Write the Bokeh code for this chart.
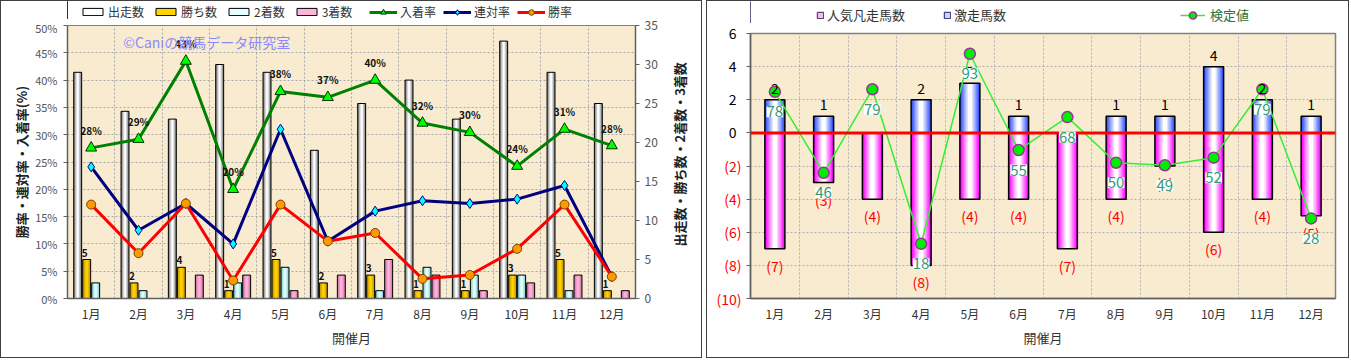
import math
from bokeh.plotting import figure
from bokeh.models import (Range1d, LinearAxis, FixedTicker, PrintfTickFormatter, ColumnDataSource,
                          LabelSet, Legend, LegendItem, Span, Label, Spacer)
from bokeh.layouts import row, column
from bokeh.embed import file_html
from bokeh.resources import INLINE
from bokeh.core.properties import value

# ---------------- data ----------------
months = ["1月", "2月", "3月", "4月", "5月", "6月", "7月", "8月", "9月", "10月", "11月", "12月"]

runners = [29, 24, 23, 30, 29, 19, 25, 28, 23, 33, 29, 25]        # 出走数
wins = [5, 2, 4, 1, 5, 2, 3, 1, 1, 3, 5, 1]                        # 勝ち数
seconds = [2, 1, 0, 2, 4, 0, 1, 4, 3, 3, 1, 0]                     # 2着数
thirds = [0, 0, 3, 3, 1, 3, 5, 3, 1, 2, 3, 1]                      # 3着数
place_rate = [27.59, 29.17, 43.48, 20.0, 37.93, 36.84, 40.0, 32.14, 30.43, 24.24, 31.03, 28.0]  # 入着率
quinella_rate = [24.1, 12.5, 17.4, 10.0, 31.0, 10.5, 16.0, 17.9, 17.4, 18.2, 20.7, 4.0]        # 連対率
win_rate = [17.2, 8.3, 17.4, 3.3, 17.2, 10.5, 12.0, 3.6, 4.3, 9.1, 17.2, 4.0]                   # 勝率
rate_ticks = [0, 5, 10, 15, 20, 25, 30, 35, 40, 45, 50]
count_ticks = [0, 5, 10, 15, 20, 25, 30, 35]

fav_flops = [-7, -3, -4, -8, -4, -4, -7, -4, -2, -6, -4, -5]      # 人気凡走馬数
longshots = [2, 1, 0, 2, 3, 1, 0, 1, 1, 4, 2, 1]                   # 激走馬数
test_value = [78, 46, 79, 18, 93, 55, 68, 50, 49, 52, 79, 28]      # 検定値
diff_ticks = [-10, -8, -6, -4, -2, 0, 2, 4, 6]

FONT = "Noto Sans CJK JP"
n = len(months)
xs = [i + 0.5 for i in range(n)]
bounds = list(range(1, n))

# colours
RUN_E, RUN_C = "#7a7a7a", "#ffffff"
WIN_E, WIN_C = "#c09000", "#ffd400"
SEC_E, SEC_C = "#80cccc", "#e4ffff"
THR_E, THR_C = "#d070a8", "#ffb4da"
FLOP_E, LONG_E = "#ff00ff", "#3050ff"


def hex2rgb(h):
    h = h.lstrip("#")
    return tuple(int(h[i:i + 2], 16) for i in (0, 2, 4))


def mix(a, b, t):
    ra, rb = hex2rgb(a), hex2rgb(b)
    return "#%02x%02x%02x" % tuple(round(ra[i] + (rb[i] - ra[i]) * t) for i in range(3))


def cylinder(p, x, top, bottom, width, edge, center, outline="#000000", lw=1.0, steps=6, **kw):
    rs = []
    for k in range(steps):
        t = k / (steps - 1)
        rs.append(p.vbar(x=x, top=top, bottom=bottom, width=width * (1 - 0.8 * t),
                         fill_color=mix(edge, center, t), line_color=None, **kw))
    rs.append(p.vbar(x=x, top=top, bottom=bottom, width=width, fill_alpha=0,
                     line_color=outline, line_width=lw, **kw))
    return rs


def style_axis(ax, size="12px", color="#555555"):
    ax.major_label_text_font = FONT
    ax.major_label_text_font_size = size
    ax.major_label_text_color = color
    ax.major_label_text_line_height = 1.0
    ax.axis_label_text_font = FONT
    ax.axis_label_text_line_height = 1.0
    ax.minor_tick_line_color = None
    ax.axis_line_color = "#606060"
    ax.axis_line_width = 1.5
    ax.major_tick_line_color = "#606060"
    ax.major_tick_in = 0
    ax.major_tick_out = 4


def style_xaxis(ax):
    style_axis(ax, color="#333333")
    ax.major_tick_line_color = None
    ax.major_label_standoff = 2
    ax.axis_label = "開催月"
    ax.axis_label_standoff = 3
    ax.axis_label_text_font_size = "13px"
    ax.axis_label_text_font_style = "normal"
    ax.axis_label_text_color = "#333333"


def legend_fig(w, h):
    f = figure(width=w, height=h, x_range=Range1d(0, 1), y_range=Range1d(0, 1),
               x_axis_type=None, y_axis_type=None, output_backend="svg", toolbar_location=None,
               min_border=0)
    f.outline_line_color = None
    f.background_fill_color = "white"
    f.border_fill_color = "white"
    return f


def leg(items, **kw):
    base = dict(orientation="horizontal", padding=0, margin=0, border_line_color=None,
                background_fill_alpha=0, label_text_font=FONT, label_text_line_height=1.0,
                label_text_color="#333333")
    base.update(kw)
    return Legend(items=items, **base)


W1, W2, H = 700, 641, 356
BORDER = {"border": "1px solid #404040"}
LH1, LH2 = 18, 22

# ---------------- left chart ----------------
p1 = figure(width=W1, height=H - LH1, x_range=Range1d(0, n), y_range=Range1d(0, 50),
            output_backend="svg", toolbar_location=None,
            min_border_left=66, min_border_right=63, min_border_top=6, min_border_bottom=59)
p1.background_fill_color = "#f8ebd0"
p1.border_fill_color = "white"
p1.outline_line_color = "#808080"
p1.extra_y_ranges = {"cnt": Range1d(0, 35)}

for g in (p1.xgrid, p1.ygrid):
    g.grid_line_color = "#a8a8a8"
    g.grid_line_dash = "2 2"
    g.grid_line_width = 1
p1.xgrid.ticker = FixedTicker(ticks=bounds)

off = [-0.285, -0.095, 0.095, 0.285]
bw = 0.168
zero = [0] * n
cylinder(p1, [x + off[0] for x in xs], runners, zero, bw, RUN_E, RUN_C, y_range_name="cnt")
cylinder(p1, [x + off[1] for x in xs], wins, zero, bw, WIN_E, WIN_C, y_range_name="cnt")
cylinder(p1, [x + off[2] for x in xs], seconds, zero, bw, SEC_E, SEC_C, y_range_name="cnt")
cylinder(p1, [x + off[3] for x in xs], thirds, zero, bw, THR_E, THR_C, y_range_name="cnt")

LINE_STYLES = [("入着率", place_rate, "#008000", "triangle", 11, "#00ff00", "#003300"),
               ("連対率", quinella_rate, "#000080", "diamond", 10, "#00ffff", "#000080"),
               ("勝率", win_rate, "#ff0000", "circle", 9, "#ff9900", "#7a4000")]
for name, vals, lc, mk, sz, fc, oc in LINE_STYLES:
    p1.line(xs, vals, line_color=lc, line_width=3)
    p1.scatter(xs, vals, marker=mk, size=sz, fill_color=fc, line_color=oc)

# axes
p1.yaxis.ticker = FixedTicker(ticks=rate_ticks)
p1.yaxis.formatter = PrintfTickFormatter(format="%d%%")
p1.yaxis.axis_label = "勝率・連対率・入着率(%)"
style_axis(p1.yaxis[0], size="11px")
p1.yaxis.major_label_standoff = 6
p1.yaxis.axis_label_standoff = 1
p1.yaxis.axis_label_text_font_size = "13px"
p1.yaxis.axis_label_text_font_style = "bold"
p1.yaxis.axis_label_text_color = "#222222"

p1.xaxis.ticker = FixedTicker(ticks=xs)
p1.xaxis.major_label_overrides = {x: m for x, m in zip(xs, months)}
style_xaxis(p1.xaxis[0])

count_title = "出走数・勝ち数・2着数・3着数"
ax_r = LinearAxis(y_range_name="cnt", ticker=FixedTicker(ticks=count_ticks))
style_axis(ax_r, size="12px")
ax_r.major_label_standoff = 5
ax_r.axis_label_standoff = 19
ax_r.axis_label_text_font_size = "13px"
ax_r.axis_label_text_font_style = "bold"
ax_r.axis_label_text_color = "#222222"
pad = ""
try:
    ax_r.axis_label_orientation = math.pi / 2
    try:
        ax_r.axis_label_align = "start"
        pad = "\u3000" * 4
    except Exception:
        pass
except Exception:
    pass
ax_r.axis_label = pad + count_title
p1.add_layout(ax_r, "right")

# labels
src_w = ColumnDataSource(dict(x=[x + off[1] for x in xs], y=wins, t=[str(v) for v in wins]))
p1.add_layout(LabelSet(x="x", y="y", text="t", source=src_w, y_range_name="cnt", x_offset=-2, y_offset=3,
                       text_align="center", text_baseline="bottom", text_font=value(FONT),
                       text_font_size="10px", text_font_style="bold", text_color="#111111"))
src_p = ColumnDataSource(dict(x=xs, y=place_rate, t=["%d%%" % round(v) for v in place_rate]))
p1.add_layout(LabelSet(x="x", y="y", text="t", source=src_p, y_offset=10,
                       text_align="center", text_baseline="bottom", text_font=value(FONT),
                       text_font_size="10px", text_font_style="bold", text_color="#111111"))
p1.add_layout(Label(x=1.18, y=46.9, text="©Caniの競馬データ研究室", text_color="#8a8aff",
                    text_font=FONT, text_font_size="14px", text_align="left", text_baseline="middle"))

# left legend strip
lf1 = legend_fig(W1, LH1)
items_a = []
for name, e, c in [("出走数", RUN_E, RUN_C), ("勝ち数", WIN_E, WIN_C), ("2着数", SEC_E, SEC_C), ("3着数", THR_E, THR_C)]:
    r = lf1.vbar(x=[-5], top=[1], width=0.1, fill_color=c, line_color="#000000", line_width=1)
    items_a.append(LegendItem(label=name, renderers=[r]))
items_b = []
for name, vals, lc, mk, sz, fc, oc in LINE_STYLES:
    rl = lf1.line(x=[-5, -4], y=[0.5, 0.5], line_color=lc, line_width=3)
    rm = lf1.scatter(x=[-5], y=[0.5], marker=mk, size=sz, fill_color=fc, line_color=oc)
    items_b.append(LegendItem(label=name, renderers=[rl, rm]))
lf1.add_layout(leg(items_a, location=(13, -1), glyph_width=25, glyph_height=9,
                   label_standoff=3, spacing=9, label_text_font_size="12px", label_height=12))
lf1.add_layout(leg(items_b, location=(302, -1), glyph_width=28, glyph_height=14,
                   label_standoff=3, spacing=7, label_text_font_size="12px", label_height=12))

# ---------------- right chart ----------------
p2 = figure(width=W2, height=H - LH2, x_range=Range1d(0, n), y_range=Range1d(-10, 6),
            output_backend="svg", toolbar_location=None,
            min_border_left=43, min_border_right=13, min_border_top=10, min_border_bottom=59)
p2.background_fill_color = "#f8ebd0"
p2.border_fill_color = "white"
p2.outline_line_color = "#808080"
p2.outline_line_width = 1.5
p2.extra_y_ranges = {"score": Range1d(-3.6, 101)}

for g in (p2.xgrid, p2.ygrid):
    g.grid_line_color = "#b0b0b0"
    g.grid_line_dash = "2 2"
p2.xgrid.ticker = FixedTicker(ticks=bounds)
p2.ygrid.ticker = FixedTicker(ticks=diff_ticks)

bw2 = 0.41
cylinder(p2, xs, zero, fav_flops, bw2, FLOP_E, "#ffffff", lw=1.5, steps=7)
cylinder(p2, xs, longshots, zero, bw2, LONG_E, "#ffffff", lw=1.5, steps=7)
p2.add_layout(Span(location=0, dimension="width", line_color="#ff0000", line_width=3))
p2.line(xs, test_value, y_range_name="score", line_color="#33ee33", line_width=1.5)
p2.scatter(xs, test_value, y_range_name="score", marker="circle", size=11,
           fill_color="#00ee00", line_color="#993399", line_width=1.5)

# inner left axis: red negatives; outer left axis: black non-negatives
p2.yaxis.ticker = FixedTicker(ticks=diff_ticks)
p2.yaxis.major_label_overrides = {t: ("(%d)" % -t if t < 0 else "") for t in diff_ticks}
style_axis(p2.yaxis[0], size="14px", color="#ff0000")
p2.yaxis.major_label_standoff = 5
ax_pos = LinearAxis(ticker=FixedTicker(ticks=diff_ticks),
                    major_label_overrides={t: "" for t in diff_ticks if t < 0})
style_axis(ax_pos, size="14px", color="#000000")
ax_pos.axis_line_color = None
ax_pos.major_tick_line_color = None
ax_pos.major_tick_out = 0
ax_pos.major_label_standoff = -23
p2.add_layout(ax_pos, "left")

p2.xaxis.ticker = FixedTicker(ticks=xs)
p2.xaxis.major_label_overrides = {x: m for x, m in zip(xs, months)}
style_xaxis(p2.xaxis[0])

pos_i = [i for i in range(n) if longshots[i] > 0]
src_l = ColumnDataSource(dict(x=[xs[i] for i in pos_i], y=[longshots[i] for i in pos_i],
                              t=[str(longshots[i]) for i in pos_i]))
p2.add_layout(LabelSet(x="x", y="y", text="t", source=src_l, y_offset=6,
                       text_align="center", text_baseline="bottom", text_font=value(FONT),
                       text_font_size="14px", text_color="#000000"))
src_f = ColumnDataSource(dict(x=xs, y=fav_flops, t=["(%d)" % -v for v in fav_flops]))
p2.add_layout(LabelSet(x="x", y="y", text="t", source=src_f, y_offset=-7,
                       text_align="center", text_baseline="top", text_font=value(FONT),
                       text_font_size="14px", text_color="#ff0000"))
ls_sc = LabelSet(x="x", y="y", text="t", y_range_name="score",
                 source=ColumnDataSource(dict(x=xs, y=test_value, t=[str(v) for v in test_value])),
                 y_offset=-20, text_align="center", text_baseline="middle", text_font=value(FONT),
                 text_font_size="15px", text_color="#339977",
                 background_fill_color="white", background_fill_alpha=1.0)
try:
    ls_sc.padding = 3
except Exception:
    pass
p2.add_layout(ls_sc)

# right legend strip
lf2 = legend_fig(W2, LH2)
s_flop = lf2.vbar(x=[-5], top=[1], width=0.1, fill_color="#ffb0ff", line_color="#303030")
s_long = lf2.vbar(x=[-5], top=[1], width=0.1, fill_color="#c8d4ff", line_color="#202060")
s_line = lf2.line(x=[-5, -4], y=[0.5, 0.5], line_color="#33ee33", line_width=1.5)
s_mark = lf2.scatter(x=[-5], y=[0.5], marker="circle", size=11, fill_color="#00ee00",
                     line_color="#993399", line_width=1.5)
lf2.add_layout(leg([LegendItem(label="人気凡走馬数", renderers=[s_flop]),
                    LegendItem(label="激走馬数", renderers=[s_long])],
                   location=(66, -1), glyph_width=8, glyph_height=8,
                   label_standoff=3, spacing=38, label_text_font_size="13px", label_height=12))
lf2.add_layout(leg([LegendItem(label="検定値", renderers=[s_line, s_mark])],
                   location=(430, -1), glyph_width=25, glyph_height=18,
                   label_standoff=5, spacing=0, label_text_font_size="13px", label_height=12,
                   label_text_color="#2f6f3f"))

col1 = column(lf1, p1, styles=BORDER)
col2 = column(lf2, p2, styles=BORDER)
layout = row(col1, Spacer(width=4, height=10), col2)
open("out.html", "w").write(file_html(layout, INLINE))
